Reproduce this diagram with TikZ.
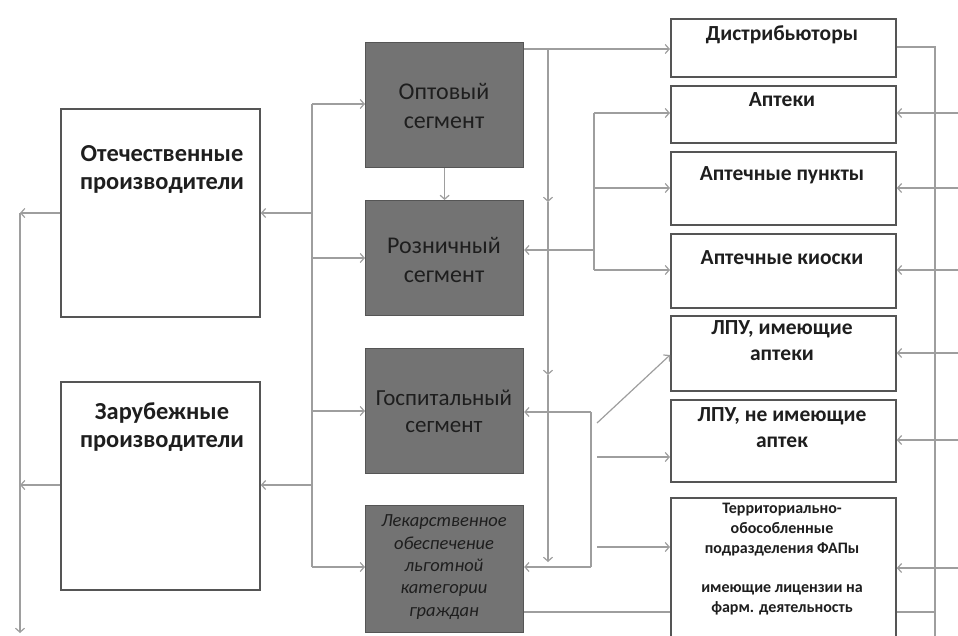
\documentclass[tikz,border=0pt]{standalone}
\usepackage{fontspec}
\setmainfont{Carlito}
\usetikzlibrary{arrows.meta}
\definecolor{boxfill}{HTML}{737373}
\definecolor{boxline}{HTML}{555555}
\definecolor{conn}{HTML}{9E9E9E}
\definecolor{txt}{HTML}{1E1E1E}
\begin{document}
\begin{tikzpicture}[x=1pt,y=-1pt,
  wbox/.style={draw=boxline,line width=1.8pt,fill=white,anchor=north west,inner sep=0pt},
  gbox/.style={draw=boxline,line width=1.2pt,fill=boxfill,anchor=north west,inner sep=0pt},
  txtn/.style={text=txt,align=center,inner sep=0pt},
  ln/.style={draw=conn,line width=1.2pt},
  arr/.style={ln,-{Straight Barb[length=4pt,width=9pt,line width=1.2pt]}}
]
\useasboundingbox (0,0) rectangle (958,635);
% left producers
\node[wbox,minimum width=199pt,minimum height=208pt] (otech) at (60,108) {};
\node[wbox,minimum width=199pt,minimum height=208pt] (zarub) at (60,381) {};
% segments
\node[gbox,minimum width=158pt,minimum height=125pt] (opt) at (365,42) {};
\node[gbox,minimum width=158pt,minimum height=115pt] (rozn) at (365,200) {};
\node[gbox,minimum width=158pt,minimum height=125pt] (gosp) at (365,348) {};
\node[gbox,minimum width=158pt,minimum height=127pt] (lek) at (365,505) {};
% right boxes
\node[wbox,minimum width=225pt,minimum height=58pt] (dist) at (670,18) {};
\node[wbox,minimum width=225pt,minimum height=57pt] (apt) at (670,85) {};
\node[wbox,minimum width=225pt,minimum height=73pt] (punk) at (670,151) {};
\node[wbox,minimum width=225pt,minimum height=74pt] (kiosk) at (670,233) {};
\node[wbox,minimum width=225pt,minimum height=75pt] (lpua) at (670,315) {};
\node[wbox,minimum width=225pt,minimum height=82pt] (lpub) at (670,399) {};
\node[wbox,minimum width=225pt,minimum height=150pt] (terr) at (670,497) {};
% texts
\node[txtn,font=\fontsize{24.4}{28}\selectfont\bfseries] (otecht) at (162,169) {Отечественные\\производители};
\node[txtn,font=\fontsize{24.4}{28}\selectfont\bfseries] (zarubt) at (162,427) {Зарубежные\\производители};
\node[txtn,font=\fontsize{24}{29}\selectfont] (optt) at (444,106) {Оптовый\\сегмент};
\node[txtn,font=\fontsize{24}{29}\selectfont] (roznt) at (444,260) {Розничный\\сегмент};
\node[txtn,font=\fontsize{23}{27}\selectfont] (gospt) at (444,411) {Госпитальный\\сегмент};
\node[txtn,font=\fontsize{18.5}{22.3}\selectfont\itshape] (lekt) at (444,567) {Лекарственное\\обеспечение\\льготной\\категории\\граждан};
\node[txtn,font=\fontsize{21.5}{26}\selectfont\bfseries] (distt) at (782,35) {Дистрибьюторы};
\node[txtn,font=\fontsize{21.5}{26}\selectfont\bfseries] (aptt) at (782,100) {Аптеки};
\node[txtn,font=\fontsize{21.5}{26}\selectfont\bfseries] (punkt) at (782,175) {Аптечные пункты};
\node[txtn,font=\fontsize{21.5}{26}\selectfont\bfseries] (kioskt) at (782,258) {Аптечные киоски};
\node[txtn,font=\fontsize{21.5}{26}\selectfont\bfseries] (lpuat) at (782,341) {ЛПУ, имеющие\\аптеки};
\node[txtn,font=\fontsize{21.5}{26}\selectfont\bfseries] (lpubt) at (782,428) {ЛПУ, не имеющие\\аптек};
\node[txtn,font=\fontsize{16}{19.7}\selectfont\bfseries] (terrt) at (782,559) {Территориально-\\обособленные\\подразделения ФАПы\\[19.7pt]имеющие лицензии на\\фарм. деятельность};
% junction coordinates
\coordinate (lb1) at (312,104);
\coordinate (lb2) at (312,567);
\coordinate (mb1) at (548,49);
\coordinate (mb2) at (548,202);
\coordinate (mb3) at (548,375);
\coordinate (mb4) at (548,562);
\coordinate (ub1) at (594,113);
\coordinate (ub2) at (594,188);
\coordinate (ub3) at (594,270);
\coordinate (ubr) at (594,250);
\coordinate (bb1) at (591,412);
\coordinate (bb2) at (591,567);
\coordinate (d1) at (597,423);
\coordinate (d2) at (597,457);
\coordinate (d3) at (597,547);
\coordinate (rb1) at (935,47);
\coordinate (rb2) at (935,640);
\coordinate (ol1) at (20,213);
\coordinate (ol2) at (20,485);
\coordinate (ol3) at (20,633);
% left bus
\draw[ln] (lb1) -- (lb2);
\draw[arr] (lb1) -- (opt.west |- lb1);
\draw[arr] (312,258) -- (rozn.west |- 0,258);
\draw[arr] (312,411) -- (gosp.west |- 0,411);
\draw[arr] (lb2) -- (lek.west |- lb2);
\draw[arr] (312,213) -- (otech.east |- ol1);
\draw[arr] (312,485) -- (zarub.east |- ol2);
% outer left
\draw[arr] (otech.west |- ol1) -- (ol1);
\draw[arr] (zarub.west |- ol2) -- (ol2);
\draw[arr] (ol1) -- (ol3);
% wholesale to retail
\draw[arr] (opt.south) -- (rozn.north);
% middle bus
\draw[arr] (opt.east |- mb1) -- (dist.west |- mb1);
\draw[arr] (mb1) -- (mb2);
\draw[arr] (mb2) -- (mb3);
\draw[arr] (mb3) -- (mb4);
% upper bracket
\draw[ln] (ub1) -- (ub3);
\draw[arr] (ub1) -- (apt.west |- ub1);
\draw[arr] (ub2) -- (punk.west |- ub2);
\draw[arr] (ub3) -- (kiosk.west |- ub3);
\draw[arr] (ubr) -- (rozn.east |- ubr);
% lower bracket
\draw[ln] (bb1) -- (bb2);
\draw[arr] (bb1) -- (gosp.east |- bb1);
\draw[arr] (bb2) -- (lek.east |- bb2);
\draw[arr] (d1) -- (lpua.west |- 0,355);
\draw[arr] (d2) -- (lpub.west |- d2);
\draw[arr] (d3) -- (terr.west |- d3);
\draw[ln] (lek.east |- 0,612) -- (terr.west |- 0,612);
% right bus
\draw[ln] (dist.east |- rb1) -- (rb1) -- (rb2);
\draw[ln] (terr.east |- 0,612) -- (935,612);
\foreach \yy/\bx in {113/apt,188/punk,270/kiosk,353/lpua,440/lpub,568/terr}
  \draw[arr] (958,\yy) -- (\bx.east |- 0,\yy);
\end{tikzpicture}
\end{document}
